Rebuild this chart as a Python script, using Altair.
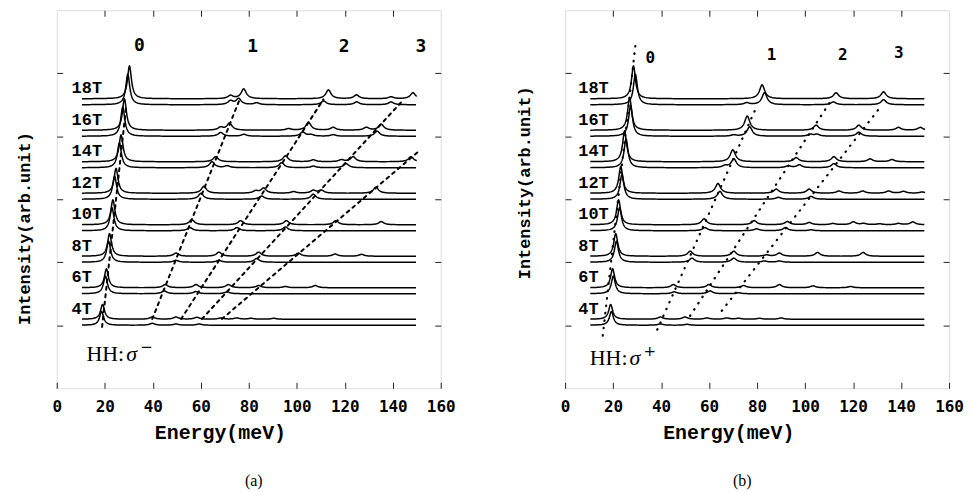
import altair as alt
import numpy as np
import pandas as pd

# ---------------- data ----------------
FIELDS = [4, 6, 8, 10, 12, 14, 16, 18]
FIELD_LABELS = ["4T", "6T", "8T", "10T", "12T", "14T", "16T", "18T"]
E_MIN, E_MAX = 10.5, 150.0
UPPER_SHIFT = 0.19          # upper trace of each field sits slightly above the lower one

# ---- panel (a): HH, sigma- ----
A_MAIN_UP = [19.1, 20.7, 22.0, 23.4, 24.7, 26.8, 28.2, 30.3]
A_MAIN_LO = [18.7, 20.3, 21.6, 23.0, 24.1, 26.1, 27.5, 29.6]
A_MAIN_H = [0.47, 0.60, 0.72, 0.79, 0.79, 0.85, 1.00, 1.04]
A_PEAKS_UP = [
    [(39.8, .07), (49.7, .07), (58.4, .06), (68.4, .04), (75.0, .04), (81.0, .03), (90.4, .03)],
    [(45.2, .10), (58.0, .10), (71.5, .10), (84.1, .07), (95.3, .04), (107.7, .07)],
    [(49.7, .10), (67.6, .13), (84.1, .13), (100.7, .10), (116.0, .07), (127.0, .06)],
    [(56.3, .16), (76.6, .13), (95.7, .13), (116.3, .13), (135.2, .10)],
    [(61.3, .22), (82.9, .07), (86.2, .16), (98.7, .05), (106.9, .09), (110.3, .09), (133.0, .19)],
    [(66.2, .16), (95.3, .19), (106.9, .06), (118.6, .06), (123.5, .16), (147.6, .16)],
    [(68.3, .09), (72.0, .22), (96.6, .05), (104.9, .25), (115.2, .09), (129.0, .09), (135.2, .19)],
    [(72.4, .10), (77.9, .31), (113.2, .28), (124.9, .12), (139.3, .06), (148.4, .19)],
]
A_PEAKS_LO = [
    [(39.8, .06), (49.7, .04), (59.3, .04)],
    [(44.8, .09), (58.0, .07), (71.0, .06)],
    [(49.7, .06), (67.6, .06), (83.3, .12)],
    [(55.5, .10), (75.1, .10), (95.3, .12)],
    [(60.1, .19), (85.4, .10), (106.9, .16)],
    [(64.7, .19), (71.0, .06), (93.7, .16), (106.9, .05), (120.6, .13)],
    [(68.3, .12), (78.0, .06), (102.5, .13), (106.0, .05), (115.2, .05), (133.5, .16)],
    [(72.4, .12), (75.8, .19), (83.3, .06), (111.2, .12), (125.0, .09), (139.3, .09)],
]
A_GUIDE_ID = ["0", "0", "1", "1", "2", "2", "3", "3", "4", "4"]
A_GUIDE_E = [18.9, 29.0, 39.8, 76.0, 51.8, 111.1, 60.5, 143.4, 68.8, 150.5]
A_GUIDE_I = [-0.05, 7.0, 0.2, 7.13, 0.2, 7.17, 0.2, 7.07, 0.2, 5.5]
A_NUM_TEXT = ["0", "1", "2", "3"]
A_NUM_E = [34.4, 81.6, 119.8, 151.7]
A_NUM_I = [8.87, 8.83, 8.83, 8.83]

# ---- panel (b): HH, sigma+ ----
B_MAIN_UP = [19.0, 19.8, 21.1, 22.3, 23.2, 24.8, 26.9, 28.5]
B_MAIN_LO = [19.3, 20.1, 21.4, 22.7, 23.7, 25.4, 27.3, 29.3]
B_MAIN_H = [0.47, 0.60, 0.72, 0.79, 0.85, 0.98, 1.04, 1.04]
B_PEAKS_UP = [
    [(39.7, .07), (50.0, .07), (59.1, .04), (67.4, .04), (72.3, .03), (81.0, .03), (90.0, .04)],
    [(45.1, .10), (59.9, .10), (74.4, .07), (89.3, .10), (103.3, .06), (119.0, .04)],
    [(52.1, .16), (70.3, .16), (83.9, .04), (89.3, .10), (105.2, .12), (124.2, .12)],
    [(57.9, .19), (78.8, .13), (92.6, .10), (101.7, .07), (111.6, .04), (120.1, .09),
     (124.4, .04), (131.0, .03), (138.9, .04), (144.9, .09)],
    [(63.7, .31), (88.0, .13), (101.7, .13), (114.1, .07), (124.0, .07), (134.8, .07),
     (141.0, .06), (148.8, .04)],
    [(69.9, .38), (96.3, .13), (112.0, .16), (127.1, .09), (136.2, .07)],
    [(75.9, .45), (104.6, .16), (122.4, .16), (138.9, .09), (148.0, .09)],
    [(82.1, .44), (112.9, .19), (132.7, .22)],
]
B_PEAKS_LO = [
    [(39.7, .04), (50.8, .03)],
    [(45.5, .06), (60.4, .09), (72.3, .03)],
    [(52.9, .13), (70.3, .13), (83.0, .04), (89.3, .04)],
    [(58.3, .10), (79.8, .06), (91.8, .10), (102.5, .03)],
    [(64.5, .25), (88.9, .06), (102.5, .09)],
    [(66.6, .06), (70.3, .28), (93.0, .06), (97.6, .09), (112.0, .13)],
    [(70.3, .04), (76.9, .30), (102.2, .06), (105.0, .06), (122.4, .13)],
    [(75.7, .06), (83.1, .38), (111.8, .09), (132.7, .16)],
]
B_GUIDE_ID = ["0", "0", "1", "1", "2", "2", "3", "3"]
B_GUIDE_E = [15.7, 29.4, 38.4, 79.8, 52.1, 110.8, 65.3, 130.6]
B_GUIDE_I = [-0.33, 8.96, -0.14, 6.94, 0.3, 7.13, 0.46, 6.85]
B_NUM_TEXT = ["0", "1", "2", "3"]
B_NUM_E = [35.5, 86.0, 115.7, 139.0]
B_NUM_I = [8.49, 8.58, 8.58, 8.65]

X_TICKS = [0, 20, 40, 60, 80, 100, 120, 140, 160]
X_INNER = [20, 40, 60, 80, 100, 120, 140]
Y_TICKS = [0, 2, 4, 6, 8]

W_MAIN, W_SIDE = 1.0, 1.3


# ---------------- build line tables from the peak lists ----------------
def trace(main_e, main_h, peaks, base):
    centers = [main_e] + [p[0] for p in peaks]
    parts = [np.arange(E_MIN, E_MAX + 1e-9, 0.6)]
    for c in centers:
        parts.append(np.arange(c - 4.0, c + 4.0, 0.12))
    e = np.unique(np.round(np.clip(np.concatenate(parts), E_MIN, E_MAX), 2))
    y = base + main_h / (1 + ((e - main_e) / W_MAIN) ** 2)
    for pe, ph in peaks:
        y = y + ph / (1 + ((e - pe) / W_SIDE) ** 2)
    return e, np.round(y, 4)


def spectra_table(main_up, main_lo, main_h, peaks_up, peaks_lo):
    frames = []
    for i, lab in enumerate(FIELD_LABELS):
        e, y = trace(main_up[i], main_h[i], peaks_up[i], i + UPPER_SHIFT)
        frames.append(pd.DataFrame({"E": e, "I": y, "trace": lab + "u"}))
        e, y = trace(main_lo[i], main_h[i] * 0.93, peaks_lo[i], i)
        frames.append(pd.DataFrame({"E": e, "I": y, "trace": lab + "l"}))
    return pd.concat(frames, ignore_index=True)


TXT = "black"


def panel(spec_df, gid, ge, gi, ntext, ne, ni, num_size, label_e, dash, dash_w, cap,
          hh_e, hh_i, sup, ytitle_x, ytitle_y, cap_dx):
    xs = alt.Scale(domain=[0, 160], nice=False, zero=False)
    ys = alt.Scale(domain=[-2, 10], nice=False, zero=False)
    x_bottom = alt.Axis(orient="bottom", values=X_TICKS, offset=-6, tickSize=6, domain=False,
                        grid=False, labelPadding=10, labelFont="DejaVu Sans Mono",
                        labelFontWeight="bold", labelFontSize=16, labelColor=TXT,
                        labelFlush=False, labelOverlap=False, tickColor="#222",
                        title="Energy(meV)", titleFont="Liberation Mono", titleFontSize=20,
                        titleFontWeight="bold", titleColor=TXT, titleX=164, titleY=50,
                        titleBaseline="middle", titleAlign="center")
    y_left = alt.Axis(orient="left", values=Y_TICKS, offset=-6, tickSize=6, domain=False,
                      grid=False, labels=False, tickColor="#222",
                      title="Intensity(arb.unit)", titleFont="Liberation Mono",
                      titleFontSize=17, titleFontWeight="bold", titleColor=TXT,
                      titleAngle=270, titleX=ytitle_x, titleY=ytitle_y,
                      titleBaseline="middle", titleAlign="center")
    x_top = alt.Axis(orient="top", values=X_INNER, offset=-6, tickSize=6, domain=False,
                     grid=False, labels=False, title=None, tickColor="#222")
    y_right = alt.Axis(orient="right", values=Y_TICKS, offset=-6, tickSize=6, domain=False,
                       grid=False, labels=False, title=None, tickColor="#222")

    lines = alt.Chart(spec_df).mark_line(color="black", strokeWidth=1.5).encode(
        x=alt.X("E:Q", scale=xs, axis=x_bottom),
        y=alt.Y("I:Q", scale=ys, axis=y_left),
        detail="trace:N",
        order="E:Q",
    )
    gdf = pd.DataFrame({"g": gid, "E": ge, "I": gi})
    guides = alt.Chart(gdf).mark_line(color="black", strokeWidth=dash_w, strokeDash=dash,
                                      strokeCap="round").encode(
        x=alt.X("E:Q", scale=xs, axis=x_top),
        y=alt.Y("I:Q", scale=ys, axis=y_right),
        detail="g:N",
    )
    ndf = pd.DataFrame({"t": ntext, "E": ne, "I": ni})
    nums = alt.Chart(ndf).mark_text(font="DejaVu Sans Mono", fontWeight="bold",
                                    fontSize=num_size, color=TXT).encode(
        x=alt.X("E:Q", scale=xs, axis=None), y=alt.Y("I:Q", scale=ys, axis=None), text="t:N")
    fdf = pd.DataFrame({"t": FIELD_LABELS, "E": [label_e] * len(FIELDS),
                        "I": [i + 0.52 for i in range(len(FIELDS))]})
    flabs = alt.Chart(fdf).mark_text(font="Liberation Mono", fontWeight="bold", fontSize=17,
                                     align="left", baseline="middle", color=TXT).encode(
        x=alt.X("E:Q", scale=xs, axis=None), y=alt.Y("I:Q", scale=ys, axis=None), text="t:N")
    hdf = pd.DataFrame({"E": [hh_e], "I": [hh_i]})
    hbase = alt.Chart(hdf).encode(x=alt.X("E:Q", scale=xs, axis=None),
                                  y=alt.Y("I:Q", scale=ys, axis=None))
    hh = hbase.mark_text(text="HH:", font="Liberation Serif", fontSize=22, align="left",
                         baseline="middle", color=TXT)
    sig = hbase.mark_text(text="σ", font="Liberation Serif", fontStyle="italic", fontSize=22,
                          align="left", baseline="middle", dx=40, color=TXT)
    sp = hbase.mark_text(text=sup, font="DejaVu Sans", fontSize=15, align="left",
                         baseline="middle", dx=54, dy=-7, color=TXT)
    return alt.layer(lines, guides, nums, flabs, hh, sig, sp).resolve_axis(
        x="independent", y="independent"
    ).properties(
        width=386, height=380,
        title=alt.TitleParams(cap, orient="bottom", font="Liberation Serif", fontSize=16,
                              fontWeight="normal", color=TXT, offset=31, dx=cap_dx),
    )


spec_a = spectra_table(A_MAIN_UP, A_MAIN_LO, A_MAIN_H, A_PEAKS_UP, A_PEAKS_LO)
spec_b = spectra_table(B_MAIN_UP, B_MAIN_LO, B_MAIN_H, B_PEAKS_UP, B_PEAKS_LO)

pa = panel(spec_a, A_GUIDE_ID, A_GUIDE_E, A_GUIDE_I, A_NUM_TEXT, A_NUM_E, A_NUM_I, 18, 6.2,
           [3, 4.5], 2.0, "(a)", 12.4, -0.9, "\u2212", -38, 219, 5)
pb = panel(spec_b, B_GUIDE_ID, B_GUIDE_E, B_GUIDE_I, B_NUM_TEXT, B_NUM_E, B_NUM_I, 16, 5.5,
           [0.5, 7], 2.2, "(b)", 10.3, -1.05, "+", -47, 173, -15)

chart = alt.hconcat(pa, pb, spacing=59).properties(
    padding={"left": 7, "top": 0, "right": 0, "bottom": 0}
).configure_view(stroke="#555", strokeWidth=1).configure(background="white")

chart.save("out.html", embed_options={"renderer": "svg", "actions": False})
